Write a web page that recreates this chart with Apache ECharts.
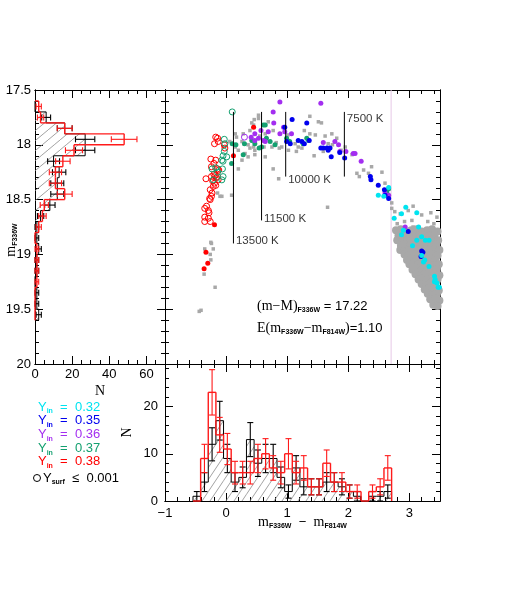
<!DOCTYPE html>
<html>
<head>
<meta charset="utf-8">
<script src="https://cdn.jsdelivr.net/npm/echarts@6/dist/echarts.min.js"></script>
<style>
  html, body { margin: 0; padding: 0; background: #fff; }
  #chart { width: 529px; height: 607px; }
</style>
</head>
<body>
<div id="chart"></div>
<script>
// ---- left histogram: N per 0.1 mag bin (lower bin edges)
const magBinLo = [17.6, 17.7, 17.8, 17.9, 18.0, 18.1, 18.2, 18.3, 18.4, 18.5,
                  18.6, 18.7, 18.8, 18.9, 19.0, 19.1, 19.2, 19.3, 19.4, 19.5];
const MAG_BIN = 0.1;
const magBlack = [0, 6, 16, 27, 27, 10, 13, 12, 12, 8, 3, 1, 1, 2, 1, 1, 0, 1, 1, 2];
const magBlackErr = [0, 2.4, 4, 5.2, 5.2, 3.2, 3.6, 3.5, 3.5, 2.8, 1.7, 1, 1, 1.4, 1, 1, 0, 1, 1, 1.4];
const magRed = [2, 3, 16, 48, 21, 15, 11, 11, 16, 5, 4, 2, 0, 1, 1, 1, 1, 0, 0, 0];
const magRedErr = [1.4, 1.7, 4, 6.9, 4.6, 3.9, 3.3, 3.3, 4, 2.2, 2, 1.4, 0, 1, 1, 1, 1, 0, 0, 0];

// ---- bottom histogram: N per colour bin (lower bin edges, width 0.125)
const colBinLo = [-0.542, -0.417, -0.292, -0.167, -0.042, 0.083, 0.208, 0.333, 0.458, 0.583,
                  0.708, 0.833, 0.958, 1.083, 1.208, 1.333, 1.458, 1.583, 1.708, 1.833,
                  1.958, 2.083, 2.208, 2.333, 2.458, 2.583];
const COL_BIN = 0.125;
const colBlack = [1, 4, 12, 17, 9, 4, 5, 13, 8, 9, 9, 5, 2, 7, 3, 3, 3, 4, 4, 3, 2, 1, 0, 1, 1, 2];
const colBlackErr = [1, 2, 3.5, 4.1, 3, 2, 2.2, 3.6, 2.8, 3, 3, 2.2, 1.4, 2.6, 1.7, 1.7, 1.7, 2, 2, 1.7, 1.4, 1, 0, 1, 1, 1.4];
const colRed = [0, 9, 23, 14, 11, 6, 6, 6, 9, 10, 7, 6, 10, 6, 7, 3, 3, 8, 4, 4, 2, 2, 0, 2, 3, 7];
const colRedErr = [0, 3, 4.8, 3.7, 3.3, 2.4, 2.4, 2.4, 3, 3.2, 2.6, 2.4, 3.2, 2.4, 2.6, 1.7, 1.7, 2.8, 2, 2, 1.4, 1.4, 0, 1.4, 1.7, 2.6];

// ---- CMD points [colour, mag]
const grayPts = [
  [0.53,17.73],[0.53,17.76],[0.42,17.80],[0.45,17.82],[0.28,17.90],[0.15,17.90],[0.06,17.97],[0.26,17.97],
  [0.36,18.00],[0.39,18.03],[0.45,18.02],[0.47,18.05],[0.47,18.09],[0.31,18.08],[0.77,18.22],[0.86,18.31],
  [0.87,18.03],[0.91,18.02],[0.75,18.02],[1.13,17.99],[1.18,18.02],[1.24,18.03],[1.37,17.74],[1.37,17.90],
  [1.46,17.91],[1.51,17.79],[1.56,17.80],[1.73,17.90],[1.67,17.99],[1.44,18.10],[1.59,18.06],[1.81,17.94],
  [1.95,18.02],[2.06,18.09],[2.14,18.26],[2.18,18.29],[2.25,18.23],[2.33,18.26],[2.38,18.20],[2.55,18.25],
  [2.60,18.35],[2.63,18.47],[2.71,18.53],[2.71,18.58],[2.76,18.61],[2.85,18.63],[2.98,18.60],[3.06,18.56],
  [3.20,18.64],[3.04,18.69],[3.06,18.75],[2.98,18.84],[3.15,18.81],[3.28,18.78],[3.09,18.87],[3.20,18.90],
  [3.26,18.93],[1.66,18.57],[0.09,18.46],[-0.14,18.44],[-0.10,18.47],[-0.07,18.47],[-0.18,18.32],
  [-0.24,18.90],[-0.35,18.95],[0.15,18.02],[0.17,17.93],[0.20,18.05],[0.39,17.87],[0.64,17.90],[0.77,17.87],
  [1.02,18.05],[0.64,18.11],[0.36,18.11],[0.26,18.14],[0.46,17.77],[0.69,17.79],[0.82,17.98],[1.15,18.06],
  [1.28,17.87],[0.55,17.92],[0.20,18.22],[0.62,18.02],[1.01,17.91],[1.62,17.92],[1.74,18.00],[1.88,18.05],
  [-0.25,18.89],[-0.21,18.95],[-0.26,19.00],[-0.25,19.05],[-0.36,19.18],[-0.18,19.30],[-0.41,19.51],[-0.44,19.52],
  [3.30,18.70],[3.40,18.72],[3.45,18.66],[3.35,18.62],[2.92,18.70],[2.80,18.72]
];
const grayClump = [
  [2.78,18.78],[2.86,18.77],[2.95,18.79],[3.03,18.78],[3.12,18.77],[3.20,18.79],[3.29,18.78],[3.37,18.77],[3.46,18.79],
  [2.82,18.83],[2.90,18.82],[2.99,18.83],[3.07,18.82],[3.16,18.83],[3.24,18.82],[3.33,18.83],[3.41,18.82],
  [2.80,18.87],[2.88,18.88],[2.97,18.87],[3.05,18.86],[3.14,18.87],[3.22,18.88],[3.31,18.87],[3.39,18.86],[3.47,18.87],
  [2.86,18.92],[2.93,18.91],[3.01,18.92],[3.10,18.91],[3.18,18.92],[3.27,18.91],[3.36,18.92],[3.44,18.91],
  [2.85,18.96],[2.92,18.97],[3.00,18.96],[3.08,18.95],[3.17,18.96],[3.25,18.97],[3.33,18.96],[3.42,18.95],[3.49,18.96],
  [2.92,19.00],[2.98,19.01],[3.05,19.00],[3.13,19.01],[3.21,19.00],[3.30,19.01],[3.38,19.00],[3.46,19.01],
  [2.96,19.05],[3.03,19.04],[3.11,19.05],[3.19,19.06],[3.27,19.05],[3.35,19.04],[3.43,19.05],
  [3.00,19.09],[3.07,19.10],[3.15,19.09],[3.24,19.08],[3.32,19.09],[3.40,19.10],[3.48,19.09],
  [3.05,19.14],[3.12,19.13],[3.20,19.14],[3.28,19.15],[3.37,19.14],[3.45,19.13],
  [3.10,19.18],[3.17,19.19],[3.25,19.18],[3.33,19.17],[3.41,19.18],[3.49,19.19],
  [3.15,19.23],[3.22,19.22],[3.30,19.23],[3.38,19.24],[3.46,19.23],
  [3.20,19.27],[3.27,19.28],[3.35,19.27],[3.43,19.26],
  [3.25,19.32],[3.32,19.31],[3.40,19.32],[3.48,19.33],
  [3.30,19.36],[3.37,19.37],[3.45,19.36],
  [3.34,19.41],[3.42,19.40],[3.49,19.42],
  [3.39,19.46],[3.46,19.47]
];
const cyanPts = [
  [2.66,18.39],[2.49,18.46],[2.58,18.47],[2.94,18.57],[2.75,18.67],[2.87,18.63],[3.12,18.62],[3.32,18.87],
  [2.90,18.78],[2.87,18.82],[3.15,18.75],[3.20,18.84],[3.26,18.87],[3.12,18.87],[3.05,18.92],[3.20,19.01],
  [3.25,19.05],[3.23,19.07],[3.32,19.11],[3.41,19.20],[3.42,19.23],[3.45,19.26],[3.47,19.30],[3.49,19.30],[3.41,19.25]
];
const bluePts = [
  [0.96,17.84],[1.08,17.77],[1.32,17.80],[0.99,17.97],[1.05,17.99],[1.18,17.96],[1.24,17.97],[1.28,17.99],
  [1.36,17.96],[1.55,18.03],[1.59,18.03],[1.65,18.03],[1.67,18.05],[1.70,18.03],[1.72,18.11],[1.86,18.07],
  [1.94,18.12],[2.36,18.29],[2.37,18.32],[2.49,18.37],[2.59,18.41],[2.60,18.46],[2.66,18.49],[2.98,18.79],
  [3.20,18.97],[3.22,18.98],[3.19,19.02]
];
const purplePts = [
  [0.88,17.61],[1.55,17.62],[0.77,17.70],[0.78,17.80],[0.94,17.84],[0.47,17.90],[0.57,17.87],[0.69,17.88],
  [0.41,17.93],[0.47,17.96],[0.53,17.94],[0.61,17.96],[0.64,17.97],[0.88,17.90],[0.96,17.88],[1.07,17.90],
  [1.59,17.98],[1.78,17.97],[1.84,18.00],[1.86,18.06],[1.96,18.06],[2.08,18.08],[2.11,18.08],[2.21,18.15],
  [2.60,18.44],[2.66,18.46],[2.93,18.75]
];
const purpleOpen = [[0.30,17.93]];
const greenPts = [
  [0.10,17.99],[0.16,18.00],[0.09,18.17],[0.30,17.99],[0.28,18.09],[0.42,17.96],[0.47,17.99],[0.61,17.82],
  [0.64,17.82],[0.54,18.03],[0.58,18.02],[0.72,17.97],[0.66,17.94],[0.80,18.00],[0.99,17.94],[1.04,17.97],
  [1.32,17.94],[1.35,17.96],[1.26,17.99],[2.66,18.40],[2.63,18.43]
];
const greenOpen = [
  [0.10,17.70],[-0.03,17.95],[-0.02,17.99],[-0.03,18.06],[-0.05,18.10],[0.01,18.11],[-0.07,18.14],[-0.05,18.15],
  [-0.23,18.22],[-0.17,18.21],[-0.06,18.22],[-0.14,18.25],[-0.05,18.29],[-0.07,18.32],[-0.21,18.32]
];
const redPts = [[0.12,18.10],[0.45,17.84],[-0.19,18.73],[-0.33,18.98],[-0.30,19.08],[-0.36,19.13]];
const redOpen = [
  [-0.17,17.93],[-0.14,17.94],[-0.13,17.97],[-0.19,17.99],[-0.03,18.00],[-0.02,18.03],[-0.25,18.13],[-0.17,18.14],
  [-0.20,18.17],[-0.24,18.20],[-0.14,18.22],[-0.12,18.23],[-0.33,18.31],[-0.24,18.29],[-0.18,18.28],[-0.14,18.29],
  [-0.13,18.32],[-0.17,18.37],[-0.21,18.38],[-0.26,18.41],[-0.23,18.44],[-0.27,18.49],[-0.24,18.47],[-0.26,18.50],
  [-0.32,18.56],[-0.35,18.58],[-0.29,18.60],[-0.28,18.62],[-0.35,18.66],[-0.29,18.67],[-0.35,18.70],[-0.26,18.70],
  [-0.20,18.27],[-0.16,18.30],[-0.22,18.33],[-0.19,18.35]
];

// ---- isotherms
const isoNames = ['13500 K', '11500 K', '10000 K', '7500 K'];
const isoColor = [0.12, 0.58, 0.975, 1.935];
const isoTop = [17.70, 17.70, 17.70, 17.70];
const isoBottom = [18.90, 18.69, 18.29, 18.29];
const edgeColor = 2.7;

// ---- legend
const yinValues = ['0.32', '0.35', '0.36', '0.37', '0.38'];

const CYAN = '#00e4f0', BLUE = '#0000ee', PURPLE = '#a32ef0', GREEN = '#14a070', RED = '#ff0000', GRAY = '#a8a8a8';
const yinColors = [CYAN, BLUE, PURPLE, GREEN, RED];
const SANS = '"Liberation Sans", Arial, sans-serif';
const SERIF = '"Liberation Serif", "DejaVu Serif", serif';

const chart = echarts.init(document.getElementById('chart'));

function hatch(w, h) {
  const c = document.createElement('canvas');
  c.width = w; c.height = h;
  const g = c.getContext('2d');
  g.strokeStyle = '#8a8a8a';
  g.lineWidth = 0.8;
  g.beginPath();
  for (let k = -1; k <= 1; k++) { g.moveTo(k * w, h); g.lineTo(k * w + w, 0); }
  g.stroke();
  return { image: c, repeat: 'repeat' };
}

function tickAxis(grid, pos, min, max, step, len, extra) {
  return Object.assign({
    type: 'value', gridIndex: grid, position: pos, min: min, max: max, interval: step,
    axisLine: { show: true, onZero: false, lineStyle: { color: '#000', width: 1 } },
    axisTick: { show: true, inside: true, length: len, lineStyle: { color: '#000', width: 1 } },
    axisLabel: { show: false }, splitLine: { show: false }
  }, extra || {});
}
const lab = (margin, fmt, hideMax) => ({
  show: true, color: '#000', fontSize: 13, fontFamily: SANS, margin: margin,
  showMaxLabel: !hideMax, formatter: fmt
});
const minus = v => (v < 0 ? '\u2212' + Math.abs(v) : String(v));

const seg = (p, q, color, lw) => ({ type: 'line', shape: { x1: p[0], y1: p[1], x2: q[0], y2: q[1] }, style: { stroke: color, lineWidth: lw } });

// step histogram, one bin per item: [lo, hi, n, err, prevN, last]
// horizontal=true: bins along the y axis (left panel)
function stepBin(horizontal, color, lw, fill) {
  return function (params, api) {
    const lo = api.value(0), hi = api.value(1), n = api.value(2), e = api.value(3);
    const prev = api.value(4), last = api.value(5);
    const P = horizontal ? (b, v) => api.coord([v, b]) : (b, v) => api.coord([b, v]);
    const kids = [];
    const a = P(lo, 0), b = P(hi, n);
    if (fill && n > 0) {
      kids.push({ type: 'rect', shape: { x: Math.min(a[0], b[0]), y: Math.min(a[1], b[1]),
        width: Math.abs(b[0] - a[0]), height: Math.abs(b[1] - a[1]) }, style: { fill: fill, stroke: null } });
    }
    kids.push(seg(P(lo, prev), P(lo, n), color, lw));
    kids.push(seg(P(lo, n), P(hi, n), color, lw));
    if (last) kids.push(seg(P(hi, n), P(hi, 0), color, lw));
    if (e > 0) {
      const m = (lo + hi) / 2, p = P(m, Math.max(n - e, 0)), q = P(m, n + e);
      kids.push(seg(p, q, color, 1.1));
      const cap = horizontal ? [0, 3] : [3, 0];
      kids.push(seg([p[0] - cap[0], p[1] - cap[1]], [p[0] + cap[0], p[1] + cap[1]], color, 1.1));
      kids.push(seg([q[0] - cap[0], q[1] - cap[1]], [q[0] + cap[0], q[1] + cap[1]], color, 1.1));
    }
    return { type: 'group', children: kids };
  };
}

const binData = (lows, width, cnt, err) =>
  lows.map((lo, i) => [lo, lo + width, cnt[i], err[i], i > 0 ? cnt[i - 1] : 0, i === lows.length - 1 ? 1 : 0]);

const sub = { fontFamily: SANS, fontSize: 7, fontWeight: 'bold', lineHeight: 6, verticalAlign: 'bottom' };
const richBase = {
  m: { fontFamily: SERIF, fontSize: 14, lineHeight: 16 },
  s: sub,
  t: { fontFamily: SANS, fontSize: 13, lineHeight: 16 }
};

function pts(data, color, size, open, symbol) {
  return {
    type: 'scatter', xAxisIndex: 1, yAxisIndex: 1, data: data, symbol: symbol || 'circle', symbolSize: size,
    silent: true, z: open ? 4 : 3, large: false, emphasis: { disabled: true },
    itemStyle: open ? { color: 'rgba(0,0,0,0)', borderColor: color, borderWidth: 1, opacity: 1 }
                    : { color: color, opacity: 1, borderWidth: 0, borderColor: color }
  };
}

// dense clump: drawn as plain discs without any series-level transparency
const clumpSeries = {
  type: 'custom', xAxisIndex: 1, yAxisIndex: 1, z: 3, silent: true, data: grayClump,
  renderItem: (params, api) => {
    const p = api.coord([api.value(0), api.value(1)]);
    return { type: 'circle', shape: { cx: p[0], cy: p[1], r: 4 }, style: { fill: GRAY, stroke: null } };
  }
};

const isoDy = [-3, -2, 3, 7];

chart.setOption({
  animation: false,
  backgroundColor: '#fff',
  textStyle: { fontFamily: SANS },
  grid: [
    { left: 35, top: 90, width: 130, height: 274, outerBoundsMode: 'none', containLabel: false },
    { left: 165, top: 90, width: 275, height: 274, outerBoundsMode: 'none', containLabel: false },
    { left: 165, top: 364, width: 275, height: 137, outerBoundsMode: 'none', containLabel: false }
  ],
  xAxis: [
    tickAxis(0, 'bottom', 0, 70, 20, 8, { axisLabel: lab(4, v => String(v), true),
      name: 'N', nameLocation: 'middle', nameGap: 20, nameMoveOverlap: false,
      nameTextStyle: { fontFamily: SERIF, fontSize: 14, color: '#000' } }),
    tickAxis(1, 'bottom', -1, 3.5, 1, 8),
    tickAxis(2, 'bottom', -1, 3.5, 1, 8, { axisLabel: lab(6, minus, true),
      name: '{m|m}{s|F336W}{t|  \u2212  }{m|m}{s|F814W}', nameLocation: 'middle', nameGap: 13, nameMoveOverlap: false,
      nameTextStyle: { color: '#000', rich: richBase } }),
    tickAxis(0, 'bottom', 0, 70, 5, 4),
    tickAxis(0, 'top', 0, 70, 20, 8),
    tickAxis(0, 'top', 0, 70, 5, 4),
    tickAxis(1, 'bottom', -1, 3.5, 0.2, 4),
    tickAxis(1, 'top', -1, 3.5, 1, 8),
    tickAxis(1, 'top', -1, 3.5, 0.2, 4),
    tickAxis(2, 'bottom', -1, 3.5, 0.2, 4),
    tickAxis(2, 'top', -1, 3.5, 1, 8),
    tickAxis(2, 'top', -1, 3.5, 0.2, 4)
  ],
  yAxis: [
    tickAxis(0, 'left', 17.5, 20, 0.5, 8, { inverse: true, axisLabel: lab(4, v => String(v), false) }),
    tickAxis(1, 'left', 17.5, 20, 0.5, 8, { inverse: true }),
    tickAxis(2, 'left', 0, 29, 10, 8, { axisLabel: lab(7, v => String(v), true),
      name: 'N', nameLocation: 'middle', nameRotate: 90, nameGap: 31, nameMoveOverlap: false,
      nameTextStyle: { fontFamily: SERIF, fontSize: 14, color: '#000' } }),
    tickAxis(0, 'left', 17.5, 20, 0.1, 4, { inverse: true }),
    tickAxis(0, 'right', 17.5, 20, 0.5, 8, { inverse: true }),
    tickAxis(0, 'right', 17.5, 20, 0.1, 4, { inverse: true }),
    tickAxis(1, 'left', 17.5, 20, 0.1, 4, { inverse: true }),
    tickAxis(1, 'right', 17.5, 20, 0.5, 8, { inverse: true }),
    tickAxis(1, 'right', 17.5, 20, 0.1, 4, { inverse: true }),
    tickAxis(2, 'left', 0, 29, 2, 4),
    tickAxis(2, 'right', 0, 29, 10, 8),
    tickAxis(2, 'right', 0, 29, 2, 4)
  ],
  series: [
    // left histogram
    { type: 'custom', xAxisIndex: 0, yAxisIndex: 0, z: 2, silent: true,
      data: binData(magBinLo, MAG_BIN, magBlack, magBlackErr), renderItem: stepBin(true, '#000', 1, hatch(12, 10)) },
    { type: 'custom', xAxisIndex: 0, yAxisIndex: 0, z: 3, silent: true,
      data: binData(magBinLo, MAG_BIN, magRed, magRedErr), renderItem: stepBin(true, '#ff1a1a', 1.4) },
    // bottom histogram
    { type: 'custom', xAxisIndex: 2, yAxisIndex: 2, z: 2, silent: true,
      data: binData(colBinLo, COL_BIN, colBlack, colBlackErr), renderItem: stepBin(false, '#000', 1, hatch(8, 12)) },
    { type: 'custom', xAxisIndex: 2, yAxisIndex: 2, z: 3, silent: true,
      data: binData(colBinLo, COL_BIN, colRed, colRedErr), renderItem: stepBin(false, '#ff1a1a', 1.4) },
    // CMD
    { type: 'line', xAxisIndex: 1, yAxisIndex: 1, symbol: 'none', silent: true, z: 1,
      lineStyle: { color: '#e6c8e6', width: 1 }, data: [[edgeColor, 17.5], [edgeColor, 20]] },
    clumpSeries,
    pts(grayPts, GRAY, 3.5, false, 'rect'),
    pts(redOpen, RED, 6, true),
    pts(greenOpen, GREEN, 6, true),
    pts(purpleOpen, PURPLE, 6, true),
    pts(redPts, RED, 5),
    pts(greenPts, GREEN, 5),
    pts(purplePts, PURPLE, 5),
    pts(bluePts, BLUE, 5),
    pts(cyanPts, CYAN, 5)
  ].concat(isoNames.map((nm, i) => ({
    type: 'line', xAxisIndex: 1, yAxisIndex: 1, symbol: 'none', silent: true, z: 5,
    lineStyle: { color: '#000', width: 1 },
    data: [[isoColor[i], isoTop[i]], [isoColor[i], isoBottom[i]]]
  }))).concat([{
    type: 'scatter', xAxisIndex: 1, yAxisIndex: 1, symbolSize: 1, silent: true, z: 6,
    itemStyle: { color: 'rgba(0,0,0,0)' },
    data: isoNames.map((nm, i) => ({
      value: [isoColor[i], i === 3 ? isoTop[i] : isoBottom[i]],
      label: { show: true, position: 'right', distance: 2, offset: [0, isoDy[i]], formatter: nm,
        color: '#000', fontSize: 11.5, fontFamily: SANS }
    }))
  }]),
  graphic: [
    { type: 'text', x: 11, y: 240, rotation: Math.PI / 2, silent: true,
      style: { text: '{m|m}{s|F336W}', rich: richBase, fill: '#000', align: 'center', verticalAlign: 'middle' } },
    { type: 'text', x: 257, y: 306, silent: true,
      style: { text: '{m|(m\u2212M)}{s|F336W}{t| = 17.22}', rich: richBase, fill: '#000', align: 'left', verticalAlign: 'middle' } },
    { type: 'text', x: 257, y: 328, silent: true,
      style: { text: '{m|E(m}{s|F336W}{m|\u2212m}{s|F814W}{m|)}{t|=1.10}', rich: richBase, fill: '#000', align: 'left', verticalAlign: 'middle' } }
  ].concat(yinValues.map((v, i) => ({
    type: 'text', x: 38, y: 407 + i * 13.7, silent: true,
    style: { text: '{t|Y}{s|in}{t|  =  ' + v + '}', rich: richBase, fill: yinColors[i], align: 'left', verticalAlign: 'middle' }
  }))).concat([
    { type: 'circle', shape: { cx: 37, cy: 478, r: 3.5 }, silent: true, style: { fill: 'none', stroke: '#000', lineWidth: 1 } },
    { type: 'text', x: 43, y: 478, silent: true,
      style: { text: '{t|Y}{s|surf}{t|  \u2264  0.001}', rich: richBase, fill: '#000', align: 'left', verticalAlign: 'middle' } }
  ])
});
</script>
</body>
</html>
